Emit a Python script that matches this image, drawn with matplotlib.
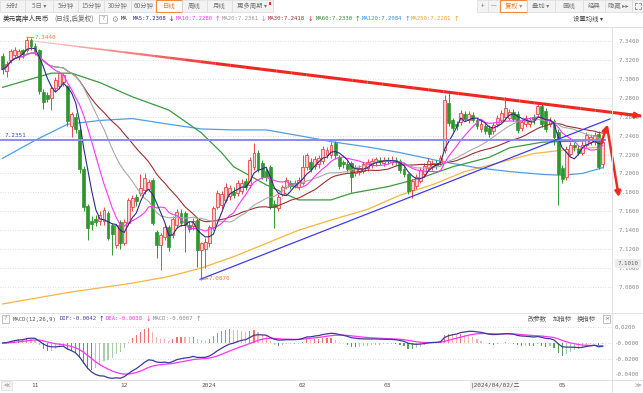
import numpy as np
import pandas as pd
import matplotlib
matplotlib.use("Agg")
import matplotlib.pyplot as plt
from matplotlib.patches import Rectangle
from matplotlib.lines import Line2D
from matplotlib.collections import LineCollection

CJK = ["Noto Sans CJK SC", "DejaVu Sans"]
MONO = ["DejaVu Sans Mono", "Noto Sans CJK SC"]

# daily candles, 2023-10-20 .. 2024-05-15 (one per weekday)
opens = [7.324, 7.308, 7.320, 7.325, 7.324, 7.330, 7.330, 7.341, 7.335, 7.330,
         7.286, 7.283, 7.280, 7.290, 7.292, 7.297, 7.292, 7.250, 7.260, 7.246,
         7.205, 7.166, 7.150, 7.152, 7.150, 7.150, 7.158, 7.146, 7.124, 7.149,
         7.126, 7.148, 7.164, 7.175, 7.179, 7.182, 7.184, 7.193, 7.138, 7.124,
         7.133, 7.143, 7.135, 7.145, 7.158, 7.158, 7.146, 7.144, 7.151, 7.119,
         7.120, 7.126, 7.143, 7.165, 7.167, 7.172, 7.176, 7.180, 7.179, 7.181,
         7.192, 7.188, 7.207, 7.222, 7.211, 7.203, 7.207, 7.168, 7.163, 7.178,
         7.186, 7.190, 7.187, 7.186, 7.190, 7.207, 7.212, 7.208, 7.210, 7.213,
         7.220, 7.219, 7.232, 7.217, 7.212, 7.210, 7.211, 7.200, 7.201, 7.203,
         7.206, 7.209, 7.212, 7.214, 7.211, 7.214, 7.212, 7.214, 7.213, 7.205,
         7.199, 7.182, 7.187, 7.192, 7.199, 7.206, 7.207, 7.211, 7.212, 7.225,
         7.274, 7.256, 7.252, 7.254, 7.263, 7.256, 7.262, 7.257, 7.247, 7.250,
         7.248, 7.245, 7.252, 7.257, 7.260, 7.259, 7.265, 7.263, 7.248, 7.252,
         7.252, 7.260, 7.263, 7.271, 7.266, 7.252, 7.255, 7.244, 7.206, 7.196,
         7.221, 7.230, 7.226, 7.222, 7.230, 7.233, 7.233, 7.242, 7.210]
closes = [7.310, 7.316, 7.329, 7.331, 7.329, 7.326, 7.341, 7.335, 7.329, 7.287,
          7.275, 7.279, 7.290, 7.299, 7.306, 7.304, 7.255, 7.263, 7.247, 7.205,
          7.165, 7.142, 7.147, 7.149, 7.156, 7.161, 7.132, 7.136, 7.145, 7.126,
          7.149, 7.172, 7.174, 7.171, 7.185, 7.195, 7.191, 7.148, 7.124, 7.135,
          7.143, 7.122, 7.152, 7.159, 7.148, 7.145, 7.141, 7.150, 7.119, 7.126,
          7.128, 7.143, 7.163, 7.179, 7.178, 7.186, 7.185, 7.177, 7.190, 7.190,
          7.186, 7.214, 7.222, 7.205, 7.196, 7.196, 7.165, 7.164, 7.175, 7.186,
          7.193, 7.187, 7.190, 7.193, 7.207, 7.219, 7.205, 7.215, 7.216, 7.226,
          7.225, 7.230, 7.219, 7.208, 7.210, 7.205, 7.196, 7.206, 7.206, 7.210,
          7.212, 7.213, 7.215, 7.212, 7.214, 7.213, 7.214, 7.212, 7.204, 7.199,
          7.181, 7.192, 7.196, 7.204, 7.208, 7.213, 7.211, 7.209, 7.216, 7.278,
          7.253, 7.248, 7.250, 7.264, 7.258, 7.263, 7.257, 7.250, 7.252, 7.245,
          7.242, 7.251, 7.259, 7.264, 7.269, 7.265, 7.258, 7.246, 7.254, 7.259,
          7.257, 7.256, 7.271, 7.252, 7.247, 7.257, 7.238, 7.199, 7.194, 7.226,
          7.230, 7.228, 7.222, 7.230, 7.241, 7.238, 7.241, 7.207, 7.233]
highs = [7.327, 7.319, 7.332, 7.334, 7.332, 7.332, 7.344, 7.343, 7.338, 7.332,
         7.289, 7.286, 7.293, 7.302, 7.308, 7.306, 7.294, 7.265, 7.264, 7.248,
         7.208, 7.168, 7.155, 7.156, 7.160, 7.164, 7.160, 7.148, 7.147, 7.151,
         7.152, 7.174, 7.177, 7.178, 7.199, 7.200, 7.194, 7.195, 7.140, 7.137,
         7.146, 7.145, 7.155, 7.162, 7.162, 7.160, 7.150, 7.153, 7.153, 7.128,
         7.132, 7.146, 7.166, 7.182, 7.181, 7.190, 7.188, 7.186, 7.193, 7.194,
         7.195, 7.217, 7.232, 7.225, 7.214, 7.207, 7.209, 7.172, 7.178, 7.188,
         7.196, 7.193, 7.193, 7.196, 7.219, 7.222, 7.216, 7.218, 7.219, 7.229,
         7.228, 7.233, 7.234, 7.220, 7.214, 7.213, 7.213, 7.209, 7.209, 7.212,
         7.215, 7.216, 7.217, 7.217, 7.217, 7.217, 7.218, 7.217, 7.215, 7.208,
         7.200, 7.194, 7.199, 7.207, 7.211, 7.216, 7.214, 7.214, 7.219, 7.283,
         7.285, 7.259, 7.255, 7.267, 7.266, 7.266, 7.265, 7.260, 7.256, 7.253,
         7.251, 7.254, 7.262, 7.267, 7.281, 7.268, 7.268, 7.266, 7.258, 7.262,
         7.260, 7.263, 7.274, 7.274, 7.269, 7.260, 7.258, 7.247, 7.209, 7.229,
         7.233, 7.233, 7.230, 7.234, 7.244, 7.242, 7.244, 7.245, 7.237]
lows = [7.305, 7.302, 7.317, 7.322, 7.320, 7.322, 7.328, 7.331, 7.325, 7.284,
        7.268, 7.276, 7.267, 7.287, 7.289, 7.292, 7.250, 7.239, 7.243, 7.200,
        7.160, 7.130, 7.140, 7.144, 7.146, 7.146, 7.130, 7.114, 7.121, 7.120,
        7.124, 7.145, 7.160, 7.166, 7.176, 7.178, 7.181, 7.145, 7.111, 7.098,
        7.130, 7.118, 7.132, 7.142, 7.144, 7.117, 7.138, 7.140, 7.101, 7.0876,
        7.100, 7.122, 7.140, 7.162, 7.162, 7.170, 7.172, 7.174, 7.176, 7.178,
        7.183, 7.185, 7.204, 7.202, 7.194, 7.192, 7.162, 7.142, 7.160, 7.176,
        7.184, 7.184, 7.185, 7.183, 7.188, 7.204, 7.202, 7.205, 7.206, 7.210,
        7.216, 7.216, 7.215, 7.205, 7.206, 7.202, 7.180, 7.197, 7.198, 7.200,
        7.203, 7.206, 7.208, 7.209, 7.208, 7.210, 7.209, 7.209, 7.200, 7.196,
        7.178, 7.174, 7.184, 7.190, 7.196, 7.203, 7.204, 7.205, 7.209, 7.222,
        7.250, 7.245, 7.246, 7.251, 7.255, 7.253, 7.254, 7.247, 7.244, 7.242,
        7.239, 7.242, 7.249, 7.254, 7.257, 7.256, 7.255, 7.243, 7.245, 7.249,
        7.249, 7.252, 7.260, 7.249, 7.244, 7.249, 7.230, 7.167, 7.190, 7.193,
        7.218, 7.224, 7.219, 7.219, 7.228, 7.230, 7.230, 7.205, 7.206]

# long moving averages (their history is not shown)
ma60_idx = [0, 12, 17, 24, 32, 41, 49, 54, 57, 65, 73, 81, 86, 95, 103, 111, 120, 125, 133, 148]
ma60_val = [7.291, 7.306, 7.306, 7.296, 7.281, 7.267, 7.243, 7.222, 7.207, 7.188, 7.172,
            7.172, 7.179, 7.186, 7.195, 7.207, 7.217, 7.227, 7.233, 7.235]
ma120_idx = [0, 8, 16, 24, 32, 41, 49, 57, 65, 73, 82, 90, 98, 109, 117, 125, 133, 138, 143, 148]
ma120_val = [7.216, 7.235, 7.252, 7.256, 7.258, 7.252, 7.247, 7.246, 7.246, 7.240, 7.233,
             7.228, 7.222, 7.212, 7.206, 7.202, 7.199, 7.198, 7.200, 7.206]
ma250_idx = [0, 8, 16, 24, 32, 41, 49, 57, 65, 73, 82, 90, 98, 106, 114, 123, 131, 139, 148]
ma250_val = [7.062, 7.068, 7.074, 7.079, 7.084, 7.091, 7.100, 7.112, 7.126, 7.140, 7.152,
             7.162, 7.177, 7.188, 7.202, 7.212, 7.221, 7.225, 7.228]

month_idx = [8, 30, 51, 74, 95, 138]
month_lbl = ["11", "12", "2024", "02", "03", "05"]
price_ticks = [7.34, 7.32, 7.30, 7.28, 7.26, 7.24, 7.22, 7.20, 7.18, 7.16, 7.14, 7.12, 7.10, 7.08]
macd_ticks = [0.02, 0.0, -0.02, -0.04]
macd_lbl = ["0.0200", "-0.0000", "-0.0200", "-0.0400"]

# user drawn lines
hi_idx, hi_val = 6, 7.3440
lo_idx, lo_val = 49, 7.0876
level = 7.2351
red_x, red_y = [7.5, 157.5], [7.3400, 7.2607]
blue_x, blue_y = [48.7, 149.8], [7.0880, 7.2576]
up_x, up_y = [147.6, 149.1], [7.2311, 7.2512]
dn_x, dn_y = [149.1, 152.0], [7.2490, 7.1750]

W, H = 643, 393
fig = plt.figure(figsize=(W / 100, H / 100), dpi=100)
fig.patch.set_facecolor("white")


def fx(x):
    return x / W


def fy(y):
    return 1 - y / H


def box(x0, y0, x1, y1, fc="#f3f3f3", ec="#d6d6d6", lw=0.6):
    fig.add_artist(Rectangle((fx(x0), fy(y1)), (x1 - x0) / W, (y1 - y0) / H,
                             transform=fig.transFigure, facecolor=fc, edgecolor=ec, lw=lw))


def txt(x, y, s, color="#555555", size=4.8, family=CJK, ha="left"):
    fig.text(fx(x), fy(y), s, color=color, fontsize=size, family=family, ha=ha, va="center")


def seg(xs, ys, color="#e2e2e2", lw=0.7):
    fig.add_artist(Line2D([fx(x) for x in xs], [fy(y) for y in ys],
                          transform=fig.transFigure, color=color, lw=lw))


ax = fig.add_axes([0, fy(312), fx(612), (312 - 27) / H])
mx = fig.add_axes([0, fy(379), fx(612), (379 - 314) / H])

o, h, l, c = map(np.array, (opens, highs, lows, closes))
idx = np.arange(len(c))
up = c >= o
RED, PINK, GREEN = "#e8474a", "#fbd2d2", "#2f962f"

ax.set_xlim(-0.64, 150.3)
ax.set_ylim(7.0535, 7.3548)
for v in price_ticks:
    ax.axhline(v, color="#d4d4d4", lw=0.6, ls=(0, (1, 2)), zorder=0)

# moving averages
cs = pd.Series(c)
ax.plot(ma250_idx, ma250_val, color="#f7b540", lw=0.9, zorder=2)
ax.plot(ma120_idx, ma120_val, color="#4f9fe6", lw=0.9, zorder=2)
ax.plot(ma60_idx, ma60_val, color="#3c9a3c", lw=0.9, zorder=2)

# candles
ax.vlines(idx[up], l[up], h[up], color=RED, lw=0.7, zorder=3)
ax.vlines(idx[~up], l[~up], h[~up], color=GREEN, lw=0.7, zorder=3)
ax.bar(idx[up], (c - o)[up], bottom=o[up], width=0.72, facecolor=PINK,
       edgecolor=RED, lw=0.6, zorder=4)
ax.bar(idx[~up], (c - o)[~up], bottom=o[~up], width=0.72, facecolor=GREEN,
       edgecolor=GREEN, lw=0.5, zorder=4)

ma_style = [(30, "#9b3030"), (20, "#a9a9a9"), (10, "#ff33ff"), (5, "#2a2a8a")]
for k, col in ma_style:
    ax.plot(idx, cs.rolling(k, min_periods=1).mean(), color=col, lw=0.8, zorder=5)

# drawn lines
ax.hlines(level, -0.64, 148.7, color="#8a8af0", lw=1.4, zorder=6)
ax.text(0.6, level + 0.0045, f"{level:.4f}", color="#4848d8", fontsize=4.3,
        family=MONO, va="center", zorder=7)
ax.plot(blue_x, blue_y, color="#3c3cf0", lw=0.9, zorder=6, clip_on=False)

t = np.linspace(0, 1, 41)
rx = red_x[0] + t * (red_x[1] - red_x[0])
ry = red_y[0] + t * (red_y[1] - red_y[0])
segs = [[(rx[k], ry[k]), (rx[k + 1], ry[k + 1])] for k in range(40)]
fade = np.clip(t[:-1] / 0.3, 0, 1)
cols = [(0.95, 0.55 - 0.4 * f, 0.55 - 0.42 * f, 0.55 + 0.45 * f) for f in fade]
ax.add_collection(LineCollection(segs, colors=cols, linewidths=0.7 + 1.5 * fade,
                                 zorder=6, clip_on=False))
arrow = dict(arrowstyle="-|>", color="#f02a1e", lw=1.8, mutation_scale=8,
             shrinkA=0, shrinkB=0, clip_on=False)
ax.annotate("", xy=(red_x[1], red_y[1]), xytext=(red_x[1] - 4, red_y[1] + 0.0021),
            arrowprops=arrow, annotation_clip=False, zorder=7)
ax.annotate("", xy=(up_x[1], up_y[1]), xytext=(up_x[0], up_y[0]),
            arrowprops=arrow, annotation_clip=False, zorder=7)
ax.annotate("", xy=(dn_x[1], dn_y[1]), xytext=(dn_x[0], dn_y[0]),
            arrowprops=arrow, annotation_clip=False, zorder=7)

# extreme markers
ax.plot([hi_idx, hi_idx + 1.6], [hi_val, hi_val - 0.0003], color="#f07a3a", lw=0.7, zorder=7)
ax.text(hi_idx + 1.9, hi_val - 0.0004, f"{hi_val:.4f}", color="#f07a3a", fontsize=4.3,
        family=MONO, va="center", zorder=7)
ax.plot([lo_idx - 0.3, lo_idx + 1.6], [lo_val, lo_val + 0.0012], color="#f07a3a", lw=0.7, zorder=7)
ax.text(lo_idx + 1.9, lo_val + 0.0016, f"{lo_val:.4f}", color="#f07a3a", fontsize=4.3,
        family=MONO, va="center", zorder=7)

ax.yaxis.tick_right()
ax.set_yticks(price_ticks)
ax.set_yticklabels([f"{v:.4f}" for v in price_ticks], fontsize=4.2, color="#8a8a8a",
                   family=MONO)
ax.tick_params(axis="y", length=0, pad=5)
ax.set_xticks([])
for s in ax.spines.values():
    s.set_visible(False)
ax.text(1.009, 7.1045, "7.1010", transform=ax.get_yaxis_transform(), fontsize=4.2,
        color="#666666", family=MONO, va="center",
        bbox=dict(boxstyle="square,pad=0.35", fc="#ececec", ec="none"))

# MACD panel (zero line kept where the reference has it, range fitted to DIF)
dif = cs.ewm(span=12, adjust=False).mean() - cs.ewm(span=26, adjust=False).mean()
dea = dif.ewm(span=9, adjust=False).mean()
hist = 2 * (dif - dea)
grow = hist.abs().diff().fillna(0) >= 0
hcol = np.where(hist >= 0, np.where(grow, "#f07070", "#f6b0b0"),
                np.where(grow, "#5a9e5a", "#a8cfa8"))
low_lim = min(dif.min(), hist.min(), -0.041) * 1.02
mx.set_xlim(-0.64, 150.3)
mx.set_ylim(low_lim, -low_lim * 29 / 36)
for v in macd_ticks[:3]:
    mx.axhline(v, color="#d4d4d4", lw=0.6, ls=(0, (1, 2)), zorder=0)
mx.bar(idx, hist, width=0.28, color=hcol, zorder=2)
mx.plot(idx, dea, color="#ff33ff", lw=0.9, zorder=3)
mx.plot(idx, dif, color="#3a3a9a", lw=0.9, zorder=4)
mx.yaxis.tick_right()
mx.set_yticks(macd_ticks)
mx.set_yticklabels(macd_lbl, fontsize=4.2, color="#8a8a8a", family=MONO)
mx.tick_params(axis="y", length=0, pad=2)
mx.set_xticks(month_idx)
mx.set_xticklabels(month_lbl, fontsize=4.4, color="#555555", family=MONO)
mx.tick_params(axis="x", length=0, pad=3)
for s in mx.spines.values():
    s.set_visible(False)

# frame lines
seg([0, W], [27, 27])
seg([0, W], [313, 313])
seg([0, W], [380, 380])
seg([612, 612], [27, 393])

# top toolbar
tabs = [("分时", 0, 25), ("5日 ▾", 25, 53), ("5分钟", 53, 78), ("15分钟", 78, 104),
        ("30分钟", 104, 131), ("60分钟", 131, 156), ("日线", 156, 182), ("周线", 182, 207),
        ("月线", 207, 232), ("更多周期 ▾", 232, 273)]
for name, x0, x1 in tabs:
    sel = name == "日线"
    box(x0, 0, x1, 12, fc="white" if sel else "#f3f3f3", ec="#f08a3c" if sel else "#dadada",
        lw=0.8 if sel else 0.5)
    txt((x0 + x1) / 2, 6, name, color="#f07a2a" if sel else "#777777", size=4.6, ha="center")
fig.add_artist(Rectangle((fx(268.5), fy(4.5)), 2.2 / W, 2.2 / H, transform=fig.transFigure,
                         facecolor="#e33", edgecolor="none"))
rtabs = [("+", 477, 488), ("—", 488, 500), ("复权 ▾", 500, 527), ("叠加 ▾", 527, 555),
         ("画线", 555, 583), ("经典", 583, 605), ("隐藏 ▸▸", 605, 632), ("", 632, 643)]
for name, x0, x1 in rtabs:
    sel = name.startswith("复权")
    box(x0, 0, x1, 12, fc="white" if sel else "#f3f3f3", ec="#f08a3c" if sel else "#dadada",
        lw=0.8 if sel else 0.5)
    txt((x0 + x1) / 2, 6, name, color="#f07a2a" if sel else "#777777", size=4.6, ha="center")
# full-screen icon: four corner brackets
for cx, cy, dx, dy in [(634.5, 3, 1, 1), (640.5, 3, -1, 1), (634.5, 9, 1, -1), (640.5, 9, -1, -1)]:
    seg([cx + 2 * dx, cx, cx], [cy, cy, cy + 2 * dy], color="#888888", lw=0.6)

# header line
txt(3, 19, "美元离岸人民币", color="#333333", size=4.8)
txt(54, 19, "(日线,后复权)", color="#666666", size=4.8)
box(99, 15, 107, 23, fc="white", ec="#aaaaaa", lw=0.5)
txt(103, 19, "?", color="#888888", size=4.0, family=MONO, ha="center")
txt(111, 19, "⚙", color="#999999", size=5.5, family=["DejaVu Sans"])
txt(121, 19, "MA", color="#333333", size=4.1, family=MONO)
heads = [("MA5:7.2308", "↓", "#2a2a8a", "#2a2a8a", 133, 171),
         ("MA10:7.2280", "↑", "#ff33ff", "#ff33ff", 176, 217),
         ("MA20:7.2361", "↓", "#999999", "#999999", 222, 263),
         ("MA30:7.2418", "↓", "#9b3030", "#d02020", 268, 310),
         ("MA60:7.2330", "↑", "#2e8b2e", "#2e8b2e", 316, 357),
         ("MA120:7.2084", "↑", "#3a8ee6", "#3a8ee6", 362, 407),
         ("MA250:7.2281", "↑", "#f0a020", "#f0a020", 411, 456)]
for s, a, col, acol, x0, xa in heads:
    txt(x0, 19, s, color=col, size=4.05, family=MONO)
    txt(xa, 19, a, color=acol, size=4.8, family=["DejaVu Sans"], ha="center")
txt(573, 19, "设置均线 ▾", color="#444444", size=4.6)

# MACD header
box(2, 315, 9, 323, fc="white", ec="#aaaaaa", lw=0.5)
txt(5.5, 319, "?", color="#888888", size=4.0, family=MONO, ha="center")
txt(13, 319, "MACD(12,26,9)", color="#555555", size=4.05, family=MONO)
mheads = [("DIF:-0.0042", "↑", "#3a3a9a", 60, 101), ("DEA:-0.0038", "↓", "#ff33ff", 106, 148),
          ("MACD:-0.0007", "↑", "#888888", 153, 198)]
for s, a, col, x0, xa in mheads:
    txt(x0, 319, s, color=col, size=4.05, family=MONO)
    txt(xa, 319, a, color=col, size=4.8, family=["DejaVu Sans"], ha="center")
for s, x0 in [("改参数", 528), ("加指标", 553), ("换指标", 577)]:
    txt(x0, 319, s, color="#555555", size=4.6)
box(603, 315, 610, 323, fc="white", ec="#aaaaaa", lw=0.5)
txt(606.5, 319, "×", color="#777777", size=4.6, family=["DejaVu Sans"], ha="center")

# bottom axis extras
box(1, 381, 12, 390, fc="#f5f5f5", ec="#dddddd", lw=0.5)
txt(6.5, 385.5, "≪", color="#888888", size=4.6, family=["DejaVu Sans"], ha="center")
txt(638, 385.5, "≫", color="#888888", size=4.6, family=["DejaVu Sans"], ha="center")
box(470, 380, 518, 391, fc="#f0f0f0", ec="none")
txt(471, 385.5, "|2024/04/02/二", color="#555555", size=4.3,
    family=["DejaVu Sans Mono", "Noto Sans CJK SC"])

fig.savefig("out.png", dpi=100)
